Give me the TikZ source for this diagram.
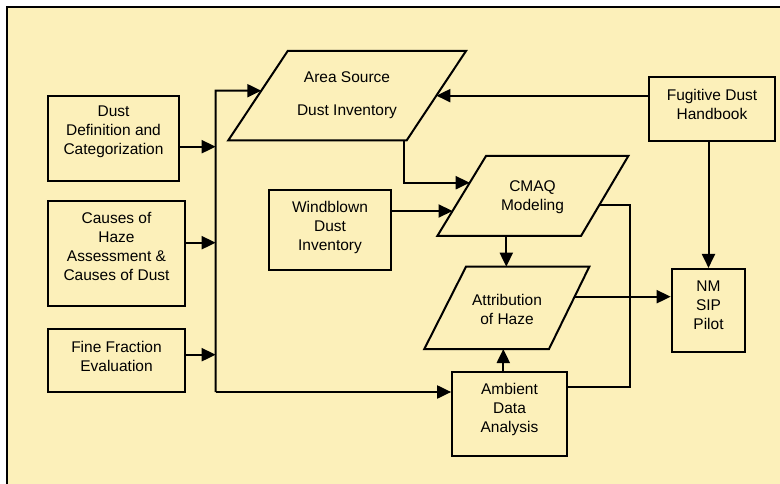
\documentclass[tikz,border=0pt]{standalone}
\usepackage{fontspec}
\setmainfont{Liberation Sans}
\usetikzlibrary{arrows.meta,calc}
\definecolor{paper}{RGB}{252,240,186}
\begin{document}
\begin{tikzpicture}[x=1pt,y=-1pt,
  box/.style={draw, fill=paper, line width=2pt, inner sep=0pt},
  lbl/.style={align=center, font=\fontsize{15.5}{19}\selectfont, inner sep=0pt},
  arr/.style={line width=2pt, -{Triangle[length=14pt,width=13pt]}},
  ln/.style={line width=2pt},
  frame/.style={line width=2.5pt}]
\useasboundingbox (0,0) rectangle (780,484);
\fill[white] (0,0) rectangle (780,484);
\fill[paper] (7,7) rectangle (790,495);
\draw[frame] (7,495) -- (7,7) -- (790,7);

% rectangles
\node[box, minimum width=130.4pt, minimum height=85pt] (dd) at (113.5,138.5) {};
\node[lbl] (ddt) at (113.5,132) {Dust\\Definition and\\Categorization};
\node[box, minimum width=137pt, minimum height=105pt] (ch) at (116.5,253.3) {};
\node[lbl] (cht) at (116.5,246.5) {Causes of\\Haze\\Assessment \&\\Causes of Dust};
\node[box, minimum width=137pt, minimum height=63pt] (ff) at (116.5,360.5) {};
\node[lbl] (fft) at (116.5,356.5) {Fine Fraction\\Evaluation};
\node[box, minimum width=121.5pt, minimum height=79pt] (wb) at (330,230) {};
\node[lbl] (wbt) at (330,227) {Windblown\\Dust\\Inventory};
\node[box, minimum width=126pt, minimum height=63.5pt] (fg) at (712,109) {};
\node[lbl] (fgt) at (712,104.2) {Fugitive Dust\\Handbook};
\node[box, minimum width=73.6pt, minimum height=82.7pt] (nm) at (708.5,310.3) {};
\node[lbl] (nmt) at (708.5,305.5) {NM\\SIP\\Pilot};
\node[box, minimum width=114.7pt, minimum height=84pt] (am) at (509.5,413.7) {};
\node[lbl] (amt) at (509.5,409) {Ambient\\Data\\Analysis};

% parallelograms
\coordinate (as1) at (287.7,51); \coordinate (as2) at (466,51);
\coordinate (as3) at (406.7,140.3); \coordinate (as4) at (228.3,140.3);
\draw[box] (as1) -- (as2) -- (as3) -- (as4) -- cycle;
\node[lbl] (ast) at (347,95.5) {Area Source\\[14pt]Dust Inventory};

\coordinate (cm1) at (486,156); \coordinate (cm2) at (628.3,156);
\coordinate (cm3) at (581,236); \coordinate (cm4) at (437.3,236);
\draw[box] (cm1) -- (cm2) -- (cm3) -- (cm4) -- cycle;
\node[lbl] (cmt) at (532.5,197.5) {CMAQ\\Modeling};

\coordinate (at1) at (466,266.7); \coordinate (at2) at (589.3,266.7);
\coordinate (at3) at (549,349); \coordinate (at4) at (424.3,349);
\draw[box] (at1) -- (at2) -- (at3) -- (at4) -- cycle;
\node[lbl] (att) at (507,309.5) {Attribution\\of Haze};

% connector points
\coordinate (bustop) at (215.7,90.7);
\coordinate (busbot) at (215.7,392);
\coordinate (b1) at (215.7,146.7);
\coordinate (b2) at (215.7,242.7);
\coordinate (b3) at (215.7,354.7);
\coordinate (asin) at ($(as1)!0.4446!(as4)$);
\coordinate (asr) at ($(as2)!0.50!(as3)$);
\coordinate (asb) at (404,140.3);
\coordinate (cmin1) at ($(cm1)!0.334!(cm4)$);
\coordinate (cmin2) at ($(cm1)!0.6875!(cm4)$);
\coordinate (cmr) at ($(cm2)!0.609!(cm3)$);
\coordinate (cmb) at (506.3,236);
\coordinate (attop) at (506.3,266.7);
\coordinate (atr) at ($(at2)!0.3645!(at3)$);
\coordinate (atb) at (503.3,349);
\coordinate (cr) at (629.5,386.7);

% connectors
\draw[arr] (busbot) -- (bustop) -- (asin);
\draw[arr] (busbot) -- (am.west |- busbot);
\draw[arr] (dd.east |- b1) -- (b1);
\draw[arr] (ch.east |- b2) -- (b2);
\draw[arr] (ff.east |- b3) -- (b3);
\draw[arr] (fg.west |- asr) -- (asr);
\draw[arr] (nm.north |- fg.south) -- (nm.north);
\draw[arr] (asb) |- (cmin1);
\draw[arr] (wb.east |- cmin2) -- (cmin2);
\draw[arr] (cmb) -- (attop);
\draw[arr] (atr) -- (nm.west |- atr);
\draw[ln] (cmr) -| (cr) -- (am.east |- cr);
\draw[arr] (am.north -| atb) -- (atb);
\end{tikzpicture}
\end{document}
